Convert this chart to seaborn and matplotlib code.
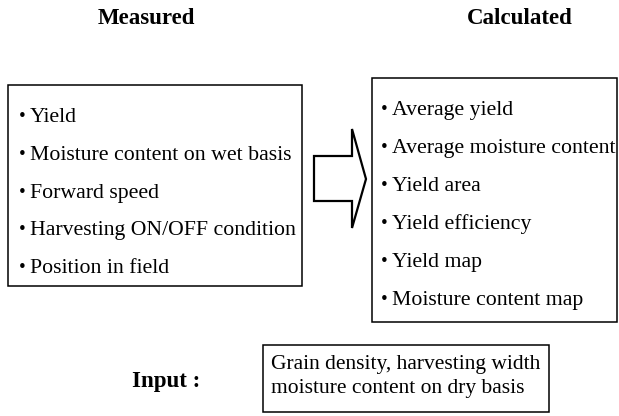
import matplotlib
matplotlib.use("Agg")
import matplotlib.pyplot as plt
import seaborn as sns
from matplotlib.patches import Rectangle, Polygon

# diagram content
measured_items = ["Yield", "Moisture content on wet basis", "Forward speed",
                  "Harvesting ON/OFF condition", "Position in field"]
calculated_items = ["Average yield", "Average moisture content", "Yield area",
                    "Yield efficiency", "Yield map", "Moisture content map"]
input_lines = ["Grain density, harvesting width", "moisture content on dry basis"]
titles = ["Measured", "Calculated"]
input_label = "Input :"

sns.set_style("white")
plt.rcParams['font.family'] = ['Liberation Serif', 'DejaVu Serif']
plt.rcParams['text.color'] = 'black'

fig = plt.figure(figsize=(6.19, 4.16), dpi=100)
ax = fig.add_axes([0, 0, 1, 1])
ax.set_xlim(0, 619)
ax.set_ylim(416, 0)
ax.axis("off")

fs = 15.7
lw = 1.1

# titles
ax.text(146, 19, titles[0], ha="center", va="center", fontsize=16.5, fontweight="bold")
ax.text(520, 19, titles[1], ha="center", va="center", fontsize=16.5, fontweight="bold")


def bullet_list(x, y0, step, items):
    # items share one baseline with their bullet
    for i, item in enumerate(items):
        y = y0 + i * step + 7
        ax.text(x, y - 1, "\u2022", ha="left", va="baseline", fontsize=fs - 2)
        ax.text(x + 11, y, item, ha="left", va="baseline", fontsize=fs)


# measured box
ax.add_patch(Rectangle((8, 85), 294, 201, fill=False, lw=lw, ec="black"))
bullet_list(19, 115, 37.8, measured_items)

# calculated box
ax.add_patch(Rectangle((372, 78), 245, 244, fill=False, lw=lw, ec="black"))
bullet_list(381, 108, 38, calculated_items)

# block arrow
arrow = [(314, 156), (352, 156), (352, 129), (366, 179), (352, 228),
         (352, 201), (314, 201)]
ax.add_patch(Polygon(arrow, closed=True, fill=False, lw=1.6, ec="black", joinstyle="miter"))

# input
ax.text(132, 382, input_label, ha="left", va="center", fontsize=16.5, fontweight="bold")
ax.add_patch(Rectangle((263, 345), 286, 67, fill=False, lw=lw, ec="black"))
for i, line in enumerate(input_lines):
    ax.text(271, 365 + i * 23, line, ha="left", va="center", fontsize=15.5)

fig.savefig("out.png", dpi=100)
